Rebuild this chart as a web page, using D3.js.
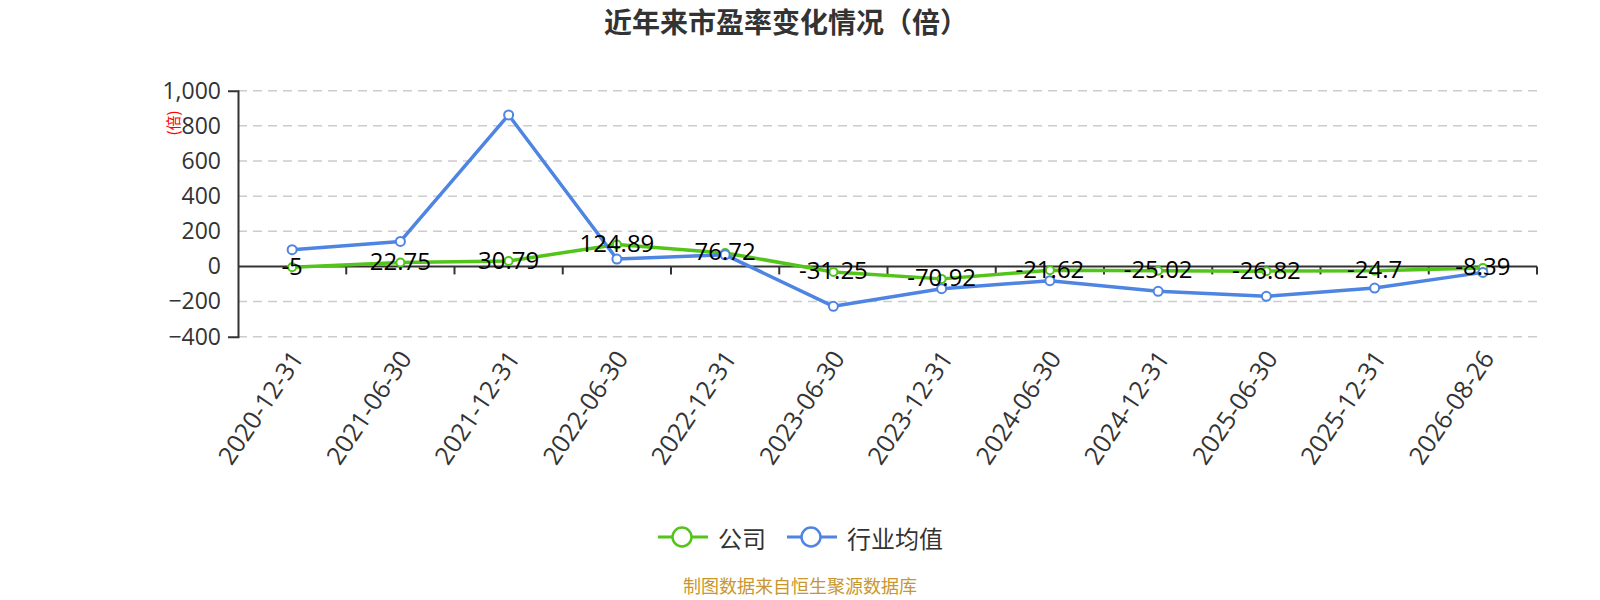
<!DOCTYPE html>
<html>
<head>
<meta charset="utf-8">
<script src="https://cdn.jsdelivr.net/npm/d3@7"></script>
<style>
  body { margin: 0; background: #fff; }
  svg text { font-family: "Open Sans", "Noto Sans CJK SC", sans-serif; }
</style>
</head>
<body>
<svg id="chart"></svg>
<script>
const width = 1600;
const height = 600;

const dates = ["2020-12-31", "2021-06-30", "2021-12-31", "2022-06-30", "2022-12-31", "2023-06-30",
    "2023-12-31", "2024-06-30", "2024-12-31", "2025-06-30", "2025-12-31", "2026-08-26"];
const company = [-5, 22.75, 30.79, 124.89, 76.72, -31.25, -70.92, -21.62, -25.02, -26.82, -24.7, -8.39];
const industry = [95, 142, 862, 42, 66, -227, -127, -81, -142, -170, -123, -34];
const yTicks = [-400, -200, 0, 200, 400, 600, 800, 1000];

const green = "#52c41a";
const blue = "#4e84e2";

const svg = d3.select("#chart")
    .attr("width", width)
    .attr("height", height);

const xScale = d3.scaleBand()
    .domain(dates)
    .range([238, 1537])
    .padding(0);

const yScale = d3.scaleLinear()
    .domain([-400, 1000])
    .range([336.7, 90.7]);

const cx = d => xScale(d) + xScale.bandwidth() / 2;

// title
svg.append("text")
    .attr("x", 786)
    .attr("y", 33)
    .attr("text-anchor", "middle")
    .style("font-family", "'Noto Sans CJK SC', sans-serif")
    .style("font-size", "28px")
    .style("font-weight", "bold")
    .style("fill", "#333")
    .text("近年来市盈率变化情况（倍）");

// grid
svg.append("g")
    .selectAll("line")
    .data(yTicks.filter(t => t !== 0))
    .enter()
    .append("line")
    .attr("x1", xScale.range()[0])
    .attr("x2", xScale.range()[1])
    .attr("y1", d => yScale(d))
    .attr("y2", d => yScale(d))
    .attr("stroke", "#ccc")
    .attr("stroke-width", 1.5)
    .attr("stroke-dasharray", "9,6");

// y axis
const yAxis = d3.axisLeft(yScale)
    .tickValues(yTicks)
    .tickSizeInner(0)
    .tickSizeOuter(10)
    .tickPadding(17)
    .tickFormat(d3.format(","));

const yG = svg.append("g")
    .attr("transform", `translate(${xScale.range()[0]},0)`)
    .call(yAxis);
yG.select(".domain").attr("stroke", "#333").attr("stroke-width", 2);
yG.selectAll("text")
    .style("font-size", "23px")
    .style("fill", "#333")
    .style("font-family", "'Open Sans', sans-serif");

// y axis name
svg.append("text")
    .attr("transform", "translate(172,123) rotate(-90)")
    .attr("text-anchor", "middle")
    .attr("dominant-baseline", "central")
    .style("font-family", "'Noto Sans CJK SC', sans-serif")
    .style("font-size", "15px")
    .style("fill", "red")
    .text("(倍)");

// x axis line at zero with ticks on band edges
const zeroY = yScale(0);
svg.append("line")
    .attr("x1", xScale.range()[0])
    .attr("x2", xScale.range()[1])
    .attr("y1", zeroY)
    .attr("y2", zeroY)
    .attr("stroke", "#333")
    .attr("stroke-width", 2);

const edges = dates.slice(1).map(d => xScale(d)).concat([xScale.range()[1]]);
svg.append("g")
    .selectAll("line")
    .data(edges)
    .enter()
    .append("line")
    .attr("x1", d => d)
    .attr("x2", d => d)
    .attr("y1", zeroY)
    .attr("y2", zeroY + 8)
    .attr("stroke", "#333")
    .attr("stroke-width", 2);

// x labels at bottom
svg.append("g")
    .selectAll("text")
    .data(dates)
    .enter()
    .append("text")
    .attr("transform", d => `translate(${cx(d) + 4},${yScale(-400) + 16}) rotate(-56)`)
    .attr("text-anchor", "end")
    .attr("dominant-baseline", "central")
    .style("font-size", "25px")
    .style("fill", "#333")
    .text(d => d);

// lines
const line = d3.line()
    .x((d, i) => cx(dates[i]))
    .y(d => yScale(d));

function drawSeries(values, color, r) {
    svg.append("path")
        .datum(values)
        .attr("d", line)
        .attr("fill", "none")
        .attr("stroke", color)
        .attr("stroke-width", 3.5)
        .attr("stroke-linejoin", "round");

    svg.append("g")
        .selectAll("circle")
        .data(values)
        .enter()
        .append("circle")
        .attr("cx", (d, i) => cx(dates[i]))
        .attr("cy", d => yScale(d))
        .attr("r", r)
        .attr("fill", "#fff")
        .attr("stroke", color)
        .attr("stroke-width", 2);
}

drawSeries(company, green, 4);
drawSeries(industry, blue, 4.5);

// company labels
svg.append("g")
    .selectAll("text")
    .data(company)
    .enter()
    .append("text")
    .attr("x", (d, i) => cx(dates[i]))
    .attr("y", d => yScale(d) - 2)
    .attr("text-anchor", "middle")
    .attr("dominant-baseline", "central")
    .style("font-size", "24px")
    .style("fill", "#000")
    .text(d => d);

// legend
const legendItems = [
    { name: "公司", color: green, x: 658 },
    { name: "行业均值", color: blue, x: 787 }
];
const legend = svg.append("g");
legendItems.forEach(item => {
    const g = legend.append("g").attr("transform", `translate(${item.x},537)`);
    g.append("line")
        .attr("x1", 0).attr("x2", 50)
        .attr("stroke", item.color)
        .attr("stroke-width", 3);
    g.append("circle")
        .attr("cx", 24).attr("r", 9.5)
        .attr("fill", "#fff")
        .attr("stroke", item.color)
        .attr("stroke-width", 2.5);
    g.append("text")
        .attr("x", 60)
        .attr("dominant-baseline", "central")
        .style("font-family", "'Noto Sans CJK SC', sans-serif")
        .style("font-size", "24px")
        .style("fill", "#333")
        .text(item.name);
});

// source
svg.append("text")
    .attr("x", 800)
    .attr("y", 585)
    .attr("text-anchor", "middle")
    .attr("dominant-baseline", "central")
    .style("font-family", "'Noto Sans CJK SC', sans-serif")
    .style("font-size", "18px")
    .style("fill", "#c9962e")
    .text("制图数据来自恒生聚源数据库");
</script>
</body>
</html>
